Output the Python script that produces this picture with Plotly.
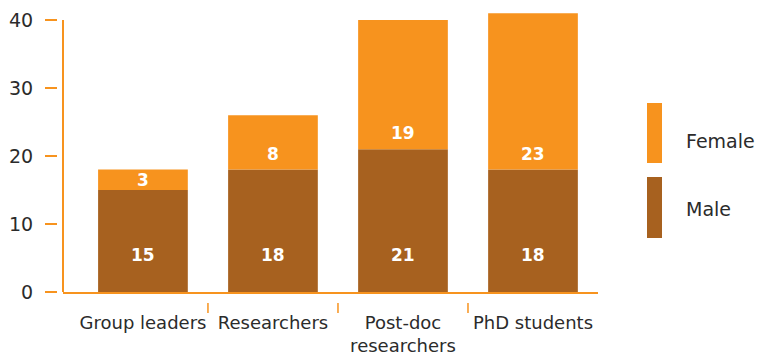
import plotly.graph_objects as go

# ---- data ----
categories = ["Group leaders", "Researchers", "Post-doc<br>researchers", "PhD students"]
male = [15, 18, 21, 18]
female = [3, 8, 19, 23]
y_ticks = [0, 10, 20, 30, 40]

# ---- style ----
ORANGE = "#F7931E"
BROWN = "#A7611F"
TEXT = "#2b2b2b"
FONT = "DejaVu Sans"
FS = 19

W, H = 757, 356
M_L, M_R, M_T, M_B = 57, 159, 3, 64
PLOT_W = W - M_L - M_R
PLOT_H = H - M_T - M_B
X_DOMAIN_START = 6 / PLOT_W
Y_RANGE = [0, 42.5]
PX_PER_UNIT = PLOT_H / (Y_RANGE[1] - Y_RANGE[0])
n = len(categories)
x_idx = list(range(n))


def px_x(px):
    return (px - M_L) / PLOT_W


def px_y(py):
    return (H - M_B - py) / PLOT_H


fig = go.Figure()
fig.add_bar(x=x_idx, y=male, name="Male", marker=dict(color=BROWN, line=dict(width=0)),
            width=0.69, showlegend=False, hoverinfo="skip")
fig.add_bar(x=x_idx, y=female, name="Female", marker=dict(color=ORANGE, line=dict(width=0)),
            width=0.69, showlegend=False, hoverinfo="skip", base=male)

# value labels inside the bars
for i in x_idx:
    fig.add_annotation(x=i, y=0, yshift=37, text=str(male[i]), showarrow=False,
                       font=dict(family=FONT, size=17, color="white", weight="bold"))
    fshift = min(16, female[i] * PX_PER_UNIT / 2)
    fig.add_annotation(x=i, y=male[i], yshift=fshift, text=str(female[i]), showarrow=False,
                       font=dict(family=FONT, size=17, color="white", weight="bold"))

shapes = []
# vertical axis line from 0 to the top tick
shapes.append(dict(type="line", xref="paper", yref="y", x0=X_DOMAIN_START, x1=X_DOMAIN_START,
                   y0=0, y1=y_ticks[-1], line=dict(color=ORANGE, width=2)))
# category separator ticks below the x axis
for b in range(n - 1):
    shapes.append(dict(type="line", xref="x", yref="paper", x0=b + 0.5, x1=b + 0.5,
                       y0=px_y(303), y1=px_y(313), line=dict(color=ORANGE, width=1.5)))

# legend swatches and labels
legend_items = [("Female", ORANGE, 103, 163, 141), ("Male", BROWN, 177, 238, 209)]
for name, color, top, bottom, label_y in legend_items:
    shapes.append(dict(type="rect", xref="paper", yref="paper", x0=px_x(647), x1=px_x(662),
                       y0=px_y(bottom), y1=px_y(top), fillcolor=color, line=dict(width=0)))
    fig.add_annotation(xref="paper", yref="paper", x=px_x(684), y=px_y(label_y),
                       xanchor="left", yanchor="middle", text=name, showarrow=False,
                       font=dict(family=FONT, size=FS, color=TEXT))

fig.update_layout(
    width=W, height=H,
    margin=dict(l=M_L, r=M_R, t=M_T, b=M_B, autoexpand=False),
    paper_bgcolor="white", plot_bgcolor="white",
    barmode="overlay",
    shapes=shapes,
    font=dict(family=FONT, size=FS, color=TEXT),
    xaxis=dict(domain=[X_DOMAIN_START, 1], range=[-0.615, n - 0.5], automargin=False,
               tickmode="array", tickvals=x_idx, ticktext=categories,
               showline=True, linecolor=ORANGE, linewidth=2,
               showgrid=False, zeroline=False, ticks="", ticklabelstandoff=13,
               tickfont=dict(family=FONT, size=18, color=TEXT)),
    yaxis=dict(range=Y_RANGE, anchor="free", position=0, automargin=False,
               tickmode="array", tickvals=y_ticks,
               showline=False, showgrid=False, zeroline=False,
               ticks="outside", ticklen=12, tickwidth=2, tickcolor=ORANGE,
               ticklabelstandoff=8,
               tickfont=dict(family=FONT, size=FS, color=TEXT)),
)

fig.write_html("out.html")
